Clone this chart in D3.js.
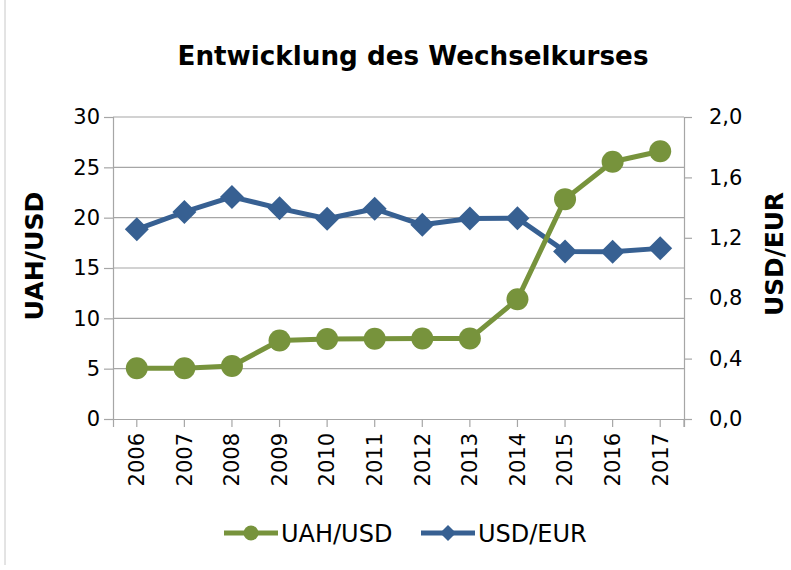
<!DOCTYPE html>
<html>
<head>
<meta charset="utf-8">
<script src="https://cdn.jsdelivr.net/npm/d3@7"></script>
<style>
  body { margin: 0; background: #fff; }
  svg { font-family: "DejaVu Sans", sans-serif; }
</style>
</head>
<body>
<div id="chart"></div>
<script>
// Daten
const years = ["2006", "2007", "2008", "2009", "2010", "2011", "2012", "2013", "2014", "2015", "2016", "2017"];
const uahUsd = [5.05, 5.05, 5.27, 7.79, 7.94, 7.97, 7.99, 7.99, 11.89, 21.84, 25.55, 26.6];
const usdEur = [1.256, 1.371, 1.471, 1.395, 1.326, 1.392, 1.286, 1.328, 1.329, 1.11, 1.107, 1.13];
const leftTicks = [0, 5, 10, 15, 20, 25, 30];
const rightTicks = [0, 0.4, 0.8, 1.2, 1.6, 2.0];

const W = 791, H = 570;
const margin = { top: 117, right: 107, bottom: 151, left: 113 };
const width = W - margin.left - margin.right;
const height = H - margin.top - margin.bottom;

const green = "#77933c";
const blue = "#376092";
const gridColor = "#a6a6a6";
const tickFont = "21px";

const svg = d3.select("#chart").append("svg")
    .attr("width", W)
    .attr("height", H);

// linker Rahmen
svg.append("line")
    .attr("x1", 5).attr("x2", 5).attr("y1", 0).attr("y2", 565)
    .attr("stroke", "#c8c8c8").attr("stroke-width", 1);

// Titel
svg.append("text")
    .attr("x", 413).attr("y", 65)
    .attr("text-anchor", "middle")
    .attr("textLength", 471).attr("lengthAdjust", "spacingAndGlyphs")
    .style("font-size", "26px")
    .style("font-weight", "bold")
    .text("Entwicklung des Wechselkurses");

const g = svg.append("g")
    .attr("transform", `translate(${margin.left},${margin.top})`);

const x = d3.scaleBand().domain(years).range([0, width]);
const yL = d3.scaleLinear().domain([0, 30]).range([height, 0]);
const yR = d3.scaleLinear().domain([0, 2]).range([height, 0]);

// Gitterlinien
g.append("g")
    .selectAll("line")
    .data(leftTicks.filter(d => d > 0))
    .join("line")
    .attr("x1", 0).attr("x2", width)
    .attr("y1", d => yL(d)).attr("y2", d => yL(d))
    .attr("stroke", gridColor).attr("stroke-width", 1.2);

// linke Achse
const axL = g.append("g")
    .call(d3.axisLeft(yL).tickValues(leftTicks).tickSize(9).tickPadding(4).tickFormat(d3.format("d")));
axL.select(".domain").attr("stroke", gridColor).attr("stroke-width", 1.2);
axL.selectAll(".tick line").attr("stroke", gridColor).attr("stroke-width", 1.2);
axL.selectAll("text").style("font-size", tickFont).attr("fill", "#000")
    .style("font-family", "'DejaVu Sans', sans-serif");

// rechte Achse
const axR = g.append("g")
    .attr("transform", `translate(${width},0)`)
    .call(d3.axisRight(yR).tickValues(rightTicks).tickSize(8).tickPadding(17)
        .tickFormat(d => d3.format(".1f")(d).replace(".", ",")));
axR.select(".domain").attr("stroke", gridColor).attr("stroke-width", 1.2);
axR.selectAll(".tick line").attr("stroke", gridColor).attr("stroke-width", 1.2);
axR.selectAll("text").style("font-size", tickFont).attr("fill", "#000")
    .style("font-family", "'DejaVu Sans', sans-serif");

// X-Achse
const axX = g.append("g")
    .attr("transform", `translate(0,${height})`)
    .call(d3.axisBottom(x).tickSize(8).tickPadding(4));
axX.select(".domain").attr("stroke", gridColor).attr("stroke-width", 1.2);
axX.selectAll(".tick line").attr("stroke", gridColor).attr("stroke-width", 1.2);
axX.append("line")
    .attr("x1", width).attr("x2", width).attr("y1", 0).attr("y2", 8)
    .attr("stroke", gridColor).attr("stroke-width", 1.2);
axX.selectAll(".tick text")
    .style("font-size", tickFont).attr("fill", "#000")
    .style("font-family", "'DejaVu Sans', sans-serif")
    .attr("text-anchor", "end")
    .attr("transform", "rotate(-90)")
    .attr("x", -14).attr("y", 0).attr("dy", "0.35em");

// Achsentitel
svg.append("text")
    .attr("transform", `translate(43,256) rotate(-90)`)
    .attr("text-anchor", "middle")
    .attr("textLength", 129).attr("lengthAdjust", "spacingAndGlyphs")
    .style("font-size", "24px").style("font-weight", "bold")
    .text("UAH/USD");

svg.append("text")
    .attr("transform", `translate(783,254) rotate(-90)`)
    .attr("text-anchor", "middle")
    .attr("textLength", 124).attr("lengthAdjust", "spacingAndGlyphs")
    .style("font-size", "24px").style("font-weight", "bold")
    .text("USD/EUR");

// Linien
const cx = d => x(d) + x.bandwidth() / 2;
const lineL = d3.line().x((d, i) => cx(years[i])).y(d => yL(d));
const lineR = d3.line().x((d, i) => cx(years[i])).y(d => yR(d));

g.append("path").datum(usdEur)
    .attr("d", lineR).attr("fill", "none")
    .attr("stroke", blue).attr("stroke-width", 5).attr("stroke-linejoin", "round");

g.append("g").selectAll("path")
    .data(usdEur)
    .join("path")
    .attr("transform", (d, i) => `translate(${cx(years[i])},${yR(d)})`)
    .attr("d", "M0,-12L12,0L0,12L-12,0Z")
    .attr("fill", blue);

g.append("path").datum(uahUsd)
    .attr("d", lineL).attr("fill", "none")
    .attr("stroke", green).attr("stroke-width", 5).attr("stroke-linejoin", "round");

g.append("g").selectAll("circle")
    .data(uahUsd)
    .join("circle")
    .attr("cx", (d, i) => cx(years[i]))
    .attr("cy", d => yL(d))
    .attr("r", 11)
    .attr("fill", green);

// Legende
const legendY = 533;
const legend = [
    { name: "UAH/USD", color: green, shape: "circle", x0: 224 },
    { name: "USD/EUR", color: blue, shape: "diamond", x0: 421 }
];
legend.forEach(l => {
    const lg = svg.append("g").attr("transform", `translate(${l.x0},${legendY})`);
    lg.append("line").attr("x1", 0).attr("x2", 54).attr("y1", 0).attr("y2", 0)
        .attr("stroke", l.color).attr("stroke-width", 5);
    if (l.shape === "circle") {
        lg.append("circle").attr("cx", 27).attr("cy", 0).attr("r", 7.5).attr("fill", l.color);
    } else {
        lg.append("path").attr("d", "M27,-8L35,0L27,8L19,0Z").attr("fill", l.color);
    }
    lg.append("text").attr("x", 57).attr("y", 0).attr("dy", "0.36em")
        .style("font-size", "24px").text(l.name);
});
</script>
</body>
</html>
